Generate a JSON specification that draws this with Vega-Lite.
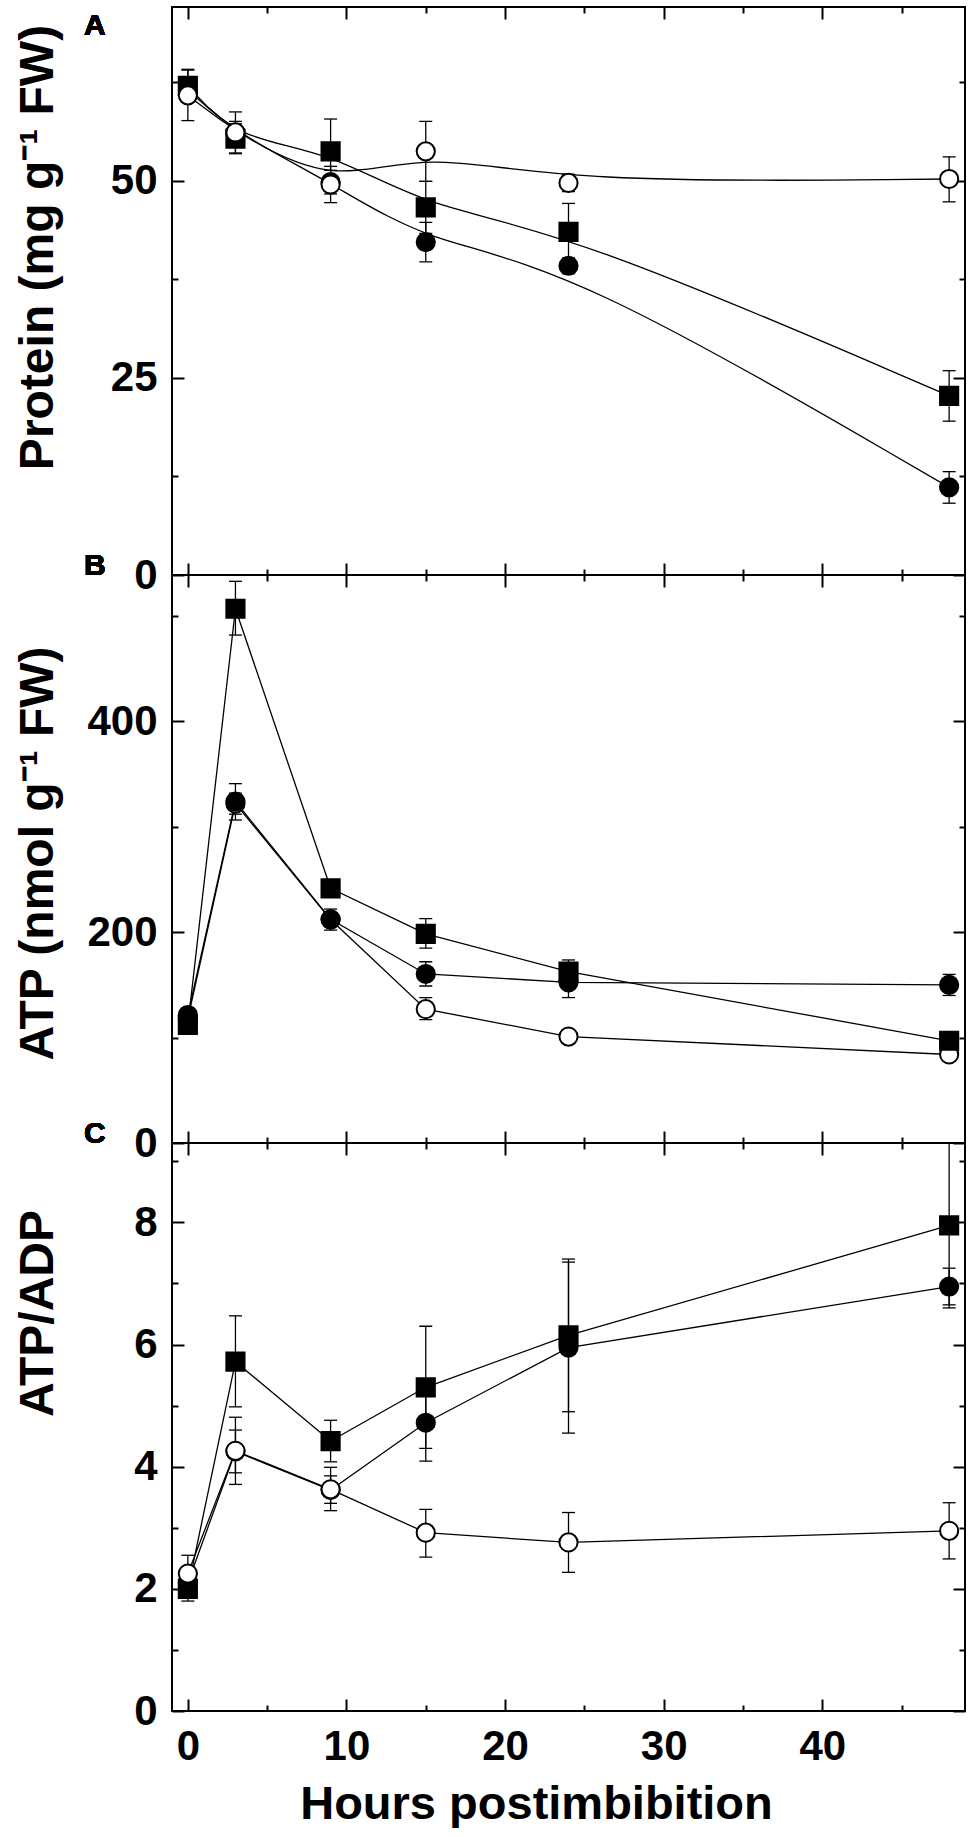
{
  "$schema": "https://vega.github.io/schema/vega-lite/v6.json",
  "background": "white",
  "padding": {"left": 12, "top": 5, "right": 4, "bottom": 0},
  "spacing": 0,
  "bounds": "flush",
  "config": {
    "view": {"stroke": "black", "strokeWidth": 2},
    "axis": {
      "domain": false, "grid": false, "tickColor": "black", "tickWidth": 2,
      "labelFont": "Liberation Sans", "labelFontWeight": "bold", "labelFontSize": 42, "labelColor": "black",
      "titleFont": "Liberation Sans", "titleFontWeight": "bold", "titleFontSize": 48, "titleColor": "black",
      "labelOverlap": false
    },
    "text": {"font": "Liberation Sans", "fontWeight": "bold", "fontSize": 30, "color": "black", "align": "left", "baseline": "alphabetic"}
  },
  "datasets": {
    "pA": [
      {"s": "filled", "h": 0, "v": 61.5, "lo": 60.0, "hi": 63.0},
      {"s": "filled", "h": 3, "v": 56.0, "lo": 54.5, "hi": 57.5},
      {"s": "filled", "h": 9, "v": 49.8, "lo": 48.3, "hi": 51.3},
      {"s": "filled", "h": 15, "v": 42.2, "lo": 39.7, "hi": 44.7},
      {"s": "filled", "h": 24, "v": 39.2, "lo": 38.2, "hi": 40.2},
      {"s": "filled", "h": 48, "v": 11.1, "lo": 9.1, "hi": 13.1},
      {"s": "square", "h": 0, "v": 62.0, "lo": 60.1, "hi": 64.1},
      {"s": "square", "h": 3, "v": 55.3, "lo": 53.4, "hi": 57.2},
      {"s": "square", "h": 9, "v": 53.7, "lo": 49.6, "hi": 57.8},
      {"s": "square", "h": 15, "v": 46.6, "lo": 43.3, "hi": 49.9},
      {"s": "square", "h": 24, "v": 43.5, "lo": 40.0, "hi": 47.1},
      {"s": "square", "h": 48, "v": 22.7, "lo": 19.5, "hi": 25.9},
      {"s": "open", "h": 0, "v": 60.8, "lo": 57.6, "hi": 64.0},
      {"s": "open", "h": 3, "v": 56.1, "lo": 53.5, "hi": 58.7},
      {"s": "open", "h": 9, "v": 49.5, "lo": 47.2, "hi": 51.8},
      {"s": "open", "h": 15, "v": 53.7, "lo": 49.9, "hi": 57.5},
      {"s": "open", "h": 24, "v": 49.7, "lo": 48.6, "hi": 50.8},
      {"s": "open", "h": 48, "v": 50.2, "lo": 47.3, "hi": 53.0}
    ],
    "pB": [
      {"s": "open", "h": 0, "v": 118, "lo": 114, "hi": 122},
      {"s": "open", "h": 3, "v": 322, "lo": 312, "hi": 332},
      {"s": "open", "h": 9, "v": 212, "lo": 206, "hi": 218},
      {"s": "open", "h": 15, "v": 127, "lo": 117, "hi": 138},
      {"s": "open", "h": 24, "v": 101, "lo": 95, "hi": 107},
      {"s": "open", "h": 48, "v": 84, "lo": 78, "hi": 90},
      {"s": "square", "h": 0, "v": 112, "lo": 107, "hi": 117},
      {"s": "square", "h": 3, "v": 507, "lo": 482, "hi": 533},
      {"s": "square", "h": 9, "v": 241.7, "lo": 236, "hi": 247},
      {"s": "square", "h": 15, "v": 198.4, "lo": 185, "hi": 213},
      {"s": "square", "h": 24, "v": 162.6, "lo": 152, "hi": 173.7},
      {"s": "square", "h": 48, "v": 97, "lo": 92, "hi": 102},
      {"s": "filled", "h": 0, "v": 121.5, "lo": 117, "hi": 126},
      {"s": "filled", "h": 3, "v": 324, "lo": 306.5, "hi": 341},
      {"s": "filled", "h": 9, "v": 212.3, "lo": 202, "hi": 222},
      {"s": "filled", "h": 15, "v": 160.4, "lo": 149, "hi": 172},
      {"s": "filled", "h": 24, "v": 152.5, "lo": 138, "hi": 167},
      {"s": "filled", "h": 48, "v": 150, "lo": 140, "hi": 160}
    ],
    "pC": [
      {"s": "filled", "h": 0, "v": 2.1, "lo": 1.95, "hi": 2.25},
      {"s": "filled", "h": 3, "v": 4.25, "lo": 3.9, "hi": 4.6},
      {"s": "filled", "h": 9, "v": 3.62, "lo": 3.4, "hi": 3.85},
      {"s": "filled", "h": 15, "v": 4.72, "lo": 4.09, "hi": 5.35},
      {"s": "filled", "h": 24, "v": 5.95, "lo": 4.55, "hi": 7.35},
      {"s": "filled", "h": 48, "v": 6.95, "lo": 6.65, "hi": 7.25},
      {"s": "square", "h": 0, "v": 2.0, "lo": 1.8, "hi": 2.2},
      {"s": "square", "h": 3, "v": 5.72, "lo": 4.98, "hi": 6.47},
      {"s": "square", "h": 9, "v": 4.42, "lo": 4.08, "hi": 4.76},
      {"s": "square", "h": 15, "v": 5.3, "lo": 4.3, "hi": 6.3},
      {"s": "square", "h": 24, "v": 6.15, "lo": 4.9, "hi": 7.4},
      {"s": "square", "h": 48, "v": 7.95, "lo": 6.6, "hi": 9.3},
      {"s": "open", "h": 0, "v": 2.25, "lo": 1.95, "hi": 2.55},
      {"s": "open", "h": 3, "v": 4.26, "lo": 3.71, "hi": 4.81},
      {"s": "open", "h": 9, "v": 3.63, "lo": 3.28, "hi": 3.99},
      {"s": "open", "h": 15, "v": 2.92, "lo": 2.52, "hi": 3.3},
      {"s": "open", "h": 24, "v": 2.76, "lo": 2.27, "hi": 3.25},
      {"s": "open", "h": 48, "v": 2.95, "lo": 2.49, "hi": 3.41}
    ]
  },
  "vconcat": [
    {
      "width": 793, "height": 568,
      "data": {"name": "pA"},
      "resolve": {"axis": {"x": "independent", "y": "independent"}},
      "layer": [
        {
          "mark": {"type": "rule", "color": "black", "strokeWidth": 1.3},
          "encoding": {
            "x": {"field": "h", "type": "quantitative", "scale": {"domain": [-1, 49], "nice": false, "zero": false},
                  "axis": {"orient": "bottom", "values": [0, 10, 20, 30, 40], "tickSize": -12, "labels": false, "title": null}},
            "y": {"field": "lo", "type": "quantitative", "scale": {"domain": [0, 72], "nice": false, "zero": false},
                  "axis": {"orient": "left", "values": [0, 25, 50], "tickSize": -12, "labelPadding": 27, "title": "Protein (mg g⁻¹ FW)", "titleX": -120, "titleY": 240, "titleBaseline": "alphabetic", "titleAngle": -90, "titleAlign": "center"}},
            "y2": {"field": "hi"}
          }
        },
        {
          "mark": {"type": "tick", "orient": "horizontal", "color": "black", "size": 13, "thickness": 1.3, "opacity": 1},
          "encoding": {
            "x": {"field": "h", "type": "quantitative", "axis": {"orient": "top", "values": [0, 10, 20, 30, 40], "tickSize": -12, "labels": false, "title": null}},
            "y": {"field": "lo", "type": "quantitative", "axis": {"orient": "right", "values": [0, 25, 50], "tickSize": -12, "labels": false, "title": null}}
          }
        },
        {
          "mark": {"type": "tick", "orient": "horizontal", "color": "black", "size": 13, "thickness": 1.3, "opacity": 1},
          "encoding": {
            "x": {"field": "h", "type": "quantitative", "axis": {"orient": "bottom", "values": [5, 15, 25, 35, 45], "tickSize": -6, "labels": false, "title": null}},
            "y": {"field": "hi", "type": "quantitative", "axis": {"orient": "left", "values": [12.5, 37.5, 62.5], "tickSize": -6, "labels": false, "title": null}}
          }
        },
        {
          "mark": {"type": "line", "interpolate": "basis", "color": "black", "strokeWidth": 1.3},
          "encoding": {
            "x": {"field": "h", "type": "quantitative", "axis": {"orient": "top", "values": [5, 15, 25, 35, 45], "tickSize": -6, "labels": false, "title": null}},
            "y": {"field": "v", "type": "quantitative", "axis": {"orient": "right", "values": [12.5, 37.5, 62.5], "tickSize": -6, "labels": false, "title": null}},
            "detail": {"field": "s"}
          }
        },
        {
          "mark": {"type": "point", "filled": true, "stroke": "black", "strokeWidth": 2, "opacity": 1, "fillOpacity": 1, "size": 330},
          "encoding": {
            "x": {"field": "h", "type": "quantitative", "axis": null},
            "y": {"field": "v", "type": "quantitative", "axis": null},
            "shape": {"field": "s", "type": "nominal", "scale": {"domain": ["filled", "square", "open"], "range": ["circle", "square", "circle"]}, "legend": null},
            "fill": {"field": "s", "type": "nominal", "scale": {"domain": ["filled", "square", "open"], "range": ["black", "black", "white"]}, "legend": null}
          }
        },
        {
          "mark": {"type": "text"},
          "encoding": {
            "x": {"datum": -6.55, "type": "quantitative", "axis": null},
            "y": {"datum": 68.4, "type": "quantitative", "axis": null},
            "text": {"value": "A"}
          }
        }
      ]
    },
    {
      "width": 793, "height": 568,
      "data": {"name": "pB"},
      "resolve": {"axis": {"x": "independent", "y": "independent"}},
      "layer": [
        {
          "mark": {"type": "rule", "color": "black", "strokeWidth": 1.3},
          "encoding": {
            "x": {"field": "h", "type": "quantitative", "scale": {"domain": [-1, 49], "nice": false, "zero": false},
                  "axis": {"orient": "bottom", "values": [0, 10, 20, 30, 40], "tickSize": -12, "labels": false, "title": null}},
            "y": {"field": "lo", "type": "quantitative", "scale": {"domain": [0, 539], "nice": false, "zero": false},
                  "axis": {"orient": "left", "values": [0, 200, 400], "tickSize": -12, "labelPadding": 27, "title": "ATP (nmol g⁻¹ FW)", "titleX": -120, "titleY": 278, "titleBaseline": "alphabetic", "titleAngle": -90, "titleAlign": "center"}},
            "y2": {"field": "hi"}
          }
        },
        {
          "mark": {"type": "tick", "orient": "horizontal", "color": "black", "size": 13, "thickness": 1.3, "opacity": 1},
          "encoding": {
            "x": {"field": "h", "type": "quantitative", "axis": {"orient": "top", "values": [0, 10, 20, 30, 40], "tickSize": -12, "labels": false, "title": null}},
            "y": {"field": "lo", "type": "quantitative", "axis": {"orient": "right", "values": [0, 200, 400], "tickSize": -12, "labels": false, "title": null}}
          }
        },
        {
          "mark": {"type": "tick", "orient": "horizontal", "color": "black", "size": 13, "thickness": 1.3, "opacity": 1},
          "encoding": {
            "x": {"field": "h", "type": "quantitative", "axis": {"orient": "bottom", "values": [5, 15, 25, 35, 45], "tickSize": -6, "labels": false, "title": null}},
            "y": {"field": "hi", "type": "quantitative", "axis": {"orient": "left", "values": [100, 300, 500], "tickSize": -6, "labels": false, "title": null}}
          }
        },
        {
          "mark": {"type": "line", "color": "black", "strokeWidth": 1.3},
          "encoding": {
            "x": {"field": "h", "type": "quantitative", "axis": {"orient": "top", "values": [5, 15, 25, 35, 45], "tickSize": -6, "labels": false, "title": null}},
            "y": {"field": "v", "type": "quantitative", "axis": {"orient": "right", "values": [100, 300, 500], "tickSize": -6, "labels": false, "title": null}},
            "detail": {"field": "s"}
          }
        },
        {
          "mark": {"type": "point", "filled": true, "stroke": "black", "strokeWidth": 2, "opacity": 1, "fillOpacity": 1, "size": 330},
          "encoding": {
            "x": {"field": "h", "type": "quantitative", "axis": null},
            "y": {"field": "v", "type": "quantitative", "axis": null},
            "shape": {"field": "s", "type": "nominal", "scale": {"domain": ["filled", "square", "open"], "range": ["circle", "square", "circle"]}, "legend": null},
            "fill": {"field": "s", "type": "nominal", "scale": {"domain": ["filled", "square", "open"], "range": ["black", "black", "white"]}, "legend": null}
          }
        },
        {
          "mark": {"type": "text"},
          "encoding": {
            "x": {"datum": -6.55, "type": "quantitative", "axis": null},
            "y": {"datum": 539, "type": "quantitative", "axis": null},
            "text": {"value": "B"}
          }
        }
      ]
    },
    {
      "width": 793, "height": 568,
      "data": {"name": "pC"},
      "resolve": {"axis": {"x": "independent", "y": "independent"}},
      "layer": [
        {
          "mark": {"type": "rule", "color": "black", "strokeWidth": 1.3},
          "encoding": {
            "x": {"field": "h", "type": "quantitative", "scale": {"domain": [-1, 49], "nice": false, "zero": false},
                  "axis": {"orient": "bottom", "values": [0, 10, 20, 30, 40], "tickSize": -12, "labels": true, "labelPadding": 27, "title": "Hours postimbibition", "titleFontSize": 47, "titleX": 364, "titleY": 70, "titleBaseline": "top", "titleAlign": "center"}},
            "y": {"field": "lo", "type": "quantitative", "scale": {"domain": [0, 9.3], "nice": false, "zero": false},
                  "axis": {"orient": "left", "values": [0, 2, 4, 6, 8], "tickSize": -12, "labelPadding": 27, "title": "ATP/ADP", "titleX": -120, "titleY": 170, "titleBaseline": "alphabetic", "titleAngle": -90, "titleAlign": "center"}},
            "y2": {"field": "hi"}
          }
        },
        {
          "mark": {"type": "tick", "orient": "horizontal", "color": "black", "size": 13, "thickness": 1.3, "opacity": 1},
          "encoding": {
            "x": {"field": "h", "type": "quantitative", "axis": {"orient": "top", "values": [0, 10, 20, 30, 40], "tickSize": -12, "labels": false, "title": null}},
            "y": {"field": "lo", "type": "quantitative", "axis": {"orient": "right", "values": [0, 2, 4, 6, 8], "tickSize": -12, "labels": false, "title": null}}
          }
        },
        {
          "mark": {"type": "tick", "orient": "horizontal", "color": "black", "size": 13, "thickness": 1.3, "opacity": 1},
          "encoding": {
            "x": {"field": "h", "type": "quantitative", "axis": {"orient": "bottom", "values": [5, 15, 25, 35, 45], "tickSize": -6, "labels": false, "title": null}},
            "y": {"field": "hi", "type": "quantitative", "axis": {"orient": "left", "values": [1, 3, 5, 7, 9], "tickSize": -6, "labels": false, "title": null}}
          }
        },
        {
          "mark": {"type": "line", "color": "black", "strokeWidth": 1.3},
          "encoding": {
            "x": {"field": "h", "type": "quantitative", "axis": {"orient": "top", "values": [5, 15, 25, 35, 45], "tickSize": -6, "labels": false, "title": null}},
            "y": {"field": "v", "type": "quantitative", "axis": {"orient": "right", "values": [1, 3, 5, 7, 9], "tickSize": -6, "labels": false, "title": null}},
            "detail": {"field": "s"}
          }
        },
        {
          "mark": {"type": "point", "filled": true, "stroke": "black", "strokeWidth": 2, "opacity": 1, "fillOpacity": 1, "size": 330},
          "encoding": {
            "x": {"field": "h", "type": "quantitative", "axis": null},
            "y": {"field": "v", "type": "quantitative", "axis": null},
            "shape": {"field": "s", "type": "nominal", "scale": {"domain": ["filled", "square", "open"], "range": ["circle", "square", "circle"]}, "legend": null},
            "fill": {"field": "s", "type": "nominal", "scale": {"domain": ["filled", "square", "open"], "range": ["black", "black", "white"]}, "legend": null}
          }
        },
        {
          "mark": {"type": "text"},
          "encoding": {
            "x": {"datum": -6.55, "type": "quantitative", "axis": null},
            "y": {"datum": 9.3, "type": "quantitative", "axis": null},
            "text": {"value": "C"}
          }
        }
      ]
    }
  ]
}
